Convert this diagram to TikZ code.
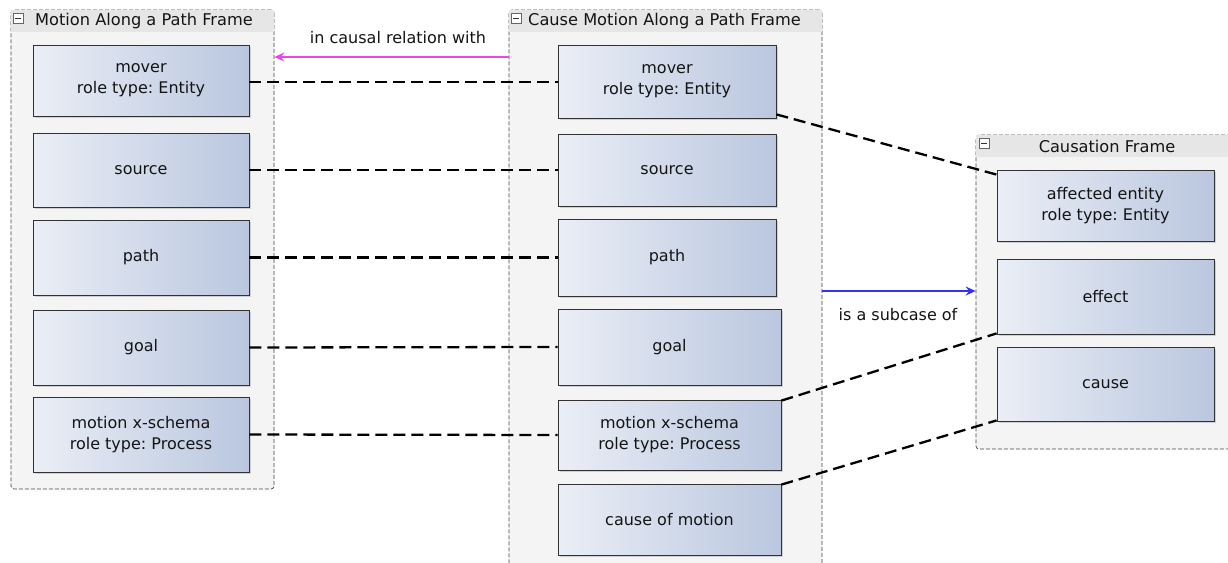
\documentclass[tikz,border=0pt]{standalone}
\usepackage{fontspec}
\setmainfont{DejaVu Sans}
\usetikzlibrary{arrows.meta,shadows}
\frenchspacing

\definecolor{txt}{RGB}{20,20,20}
\definecolor{framebg}{RGB}{244,244,244}
\definecolor{headbg}{RGB}{230,230,230}
\definecolor{framedge}{RGB}{70,70,70}
\definecolor{boxlight}{RGB}{234,238,246}
\definecolor{boxdark}{RGB}{186,199,223}
\definecolor{boxedge}{RGB}{50,50,50}
\definecolor{relmagenta}{RGB}{232,72,232}
\definecolor{relblue}{RGB}{50,50,245}

\tikzset{
  frame/.style={draw=framedge, fill=framebg, dash pattern=on 4pt off 2pt,
    line width=0.7pt, rounded corners=3pt, inner sep=0pt},
  rolebox/.style={draw=boxedge, line width=0.8pt, left color=boxlight, right color=boxdark,
    align=center, text=txt, inner sep=2pt,
    font=\fontsize{16}{21}\selectfont,
    drop shadow={shadow xshift=1.5pt, shadow yshift=-1.5pt, opacity=0.3}},
  title/.style={text=txt, font=\fontsize{16.2}{19}\selectfont, inner sep=0pt},
  rellabel/.style={text=txt, font=\fontsize{16}{19}\selectfont, inner sep=0pt},
  binding/.style={draw=black, line width=2.3pt, dash pattern=on 12pt off 6pt},
  collapse/.style={draw=gray!80!black, fill=white, line width=0.5pt,
    minimum size=10pt, inner sep=0pt},
}

\newcommand{\collapsebox}[2]{%
  \node[collapse] (#1) at (#2) {};
  \draw[line width=0.9pt, black!80] ([xshift=-2.8pt]#1.center) -- ([xshift=2.8pt]#1.center);
}

\begin{document}
\begin{tikzpicture}[x=1pt, y=-1pt]
\useasboundingbox (0,0) rectangle (1228,562);
\clip (0,0) rectangle (1228,562);
\fill[white] (0,0) rectangle (1228,562);

% ---- frames ----
\node[frame, minimum width=263pt, minimum height=479pt] (mf) at (142.5,249.5) {};
\fill[headbg] ([xshift=0.5pt,yshift=-0.5pt]mf.north west) rectangle ([xshift=-0.5pt,yshift=-22pt]mf.north east);
\collapsebox{mfc}{18,18}
\node[title, anchor=west] (mft) at (35,21) {Motion Along a Path Frame};

\node[frame, minimum width=313pt, minimum height=570pt] (cf) at (665.5,295) {};
\fill[headbg] ([xshift=0.5pt,yshift=-0.5pt]cf.north west) rectangle ([xshift=-0.5pt,yshift=-22pt]cf.north east);
\collapsebox{cfc}{516,18}
\node[title, anchor=west] (cft) at (528,21) {Cause Motion Along a Path Frame};

\node[frame, minimum width=264pt, minimum height=314pt] (sf) at (1108,292) {};
\fill[headbg] ([xshift=0.5pt,yshift=-0.5pt]sf.north west) rectangle ([xshift=-0.5pt,yshift=-22pt]sf.north east);
\collapsebox{sfc}{984,143}
\node[title] (sft) at (1107,146) {Causation Frame};

% ---- roles of Motion Along a Path ----
\node[rolebox, minimum width=216pt, minimum height=71pt] (lm) at (141,80.5) {mover\\role type: Entity};
\node[rolebox, minimum width=216pt, minimum height=74pt] (ls) at (141,170) {source};
\node[rolebox, minimum width=216pt, minimum height=75pt] (lp) at (141,257.5) {path};
\node[rolebox, minimum width=216pt, minimum height=75pt] (lg) at (141,347.5) {goal};
\node[rolebox, minimum width=216pt, minimum height=75pt] (lx) at (141,434.5) {motion x-schema\\role type: Process};

% ---- roles of Cause Motion Along a Path ----
\node[rolebox, minimum width=218pt, minimum height=73pt] (cm) at (667,81.5) {mover\\role type: Entity};
\node[rolebox, minimum width=218pt, minimum height=72pt] (cs) at (667,170) {source};
\node[rolebox, minimum width=218pt, minimum height=77pt] (cp) at (667,257.5) {path};
\node[rolebox, minimum width=223pt, minimum height=76pt] (cg) at (669.5,347) {goal};
\node[rolebox, minimum width=223pt, minimum height=70pt] (cx) at (669.5,435) {motion x-schema\\role type: Process};
\node[rolebox, minimum width=223pt, minimum height=71pt] (cc) at (669.5,519.5) {cause of motion};

% ---- roles of Causation ----
\node[rolebox, minimum width=217pt, minimum height=71pt] (ra) at (1105.5,205.5) {affected entity\\role type: Entity};
\node[rolebox, minimum width=217pt, minimum height=75pt] (re) at (1105.5,296.5) {effect};
\node[rolebox, minimum width=217pt, minimum height=74pt] (rc) at (1105.5,384) {cause};

% ---- role bindings ----
\draw[binding] (lm.east |- 0,82) -- (cm.west |- 0,82);
\draw[binding] (ls.east) -- (cs.west);
\draw[binding] (lp.east) -- (cp.west);
\draw[binding] (lg.east) -- (cg.west);
\draw[binding] (lx.east) -- (cx.west);
\draw[binding] ([yshift=4pt]cm.south east) -- ([yshift=-5pt]ra.north west);
\draw[binding] ([yshift=-1pt]cx.north east) -- ([yshift=1pt]re.south west);
\draw[binding] ([yshift=-1pt]cc.north east) -- ([yshift=1pt]rc.south west);

% ---- frame relations ----
\coordinate (ycausal) at (0,57);
\draw[relmagenta, line width=2pt, -{Stealth[length=10pt, width=9pt, inset=3.5pt]}]
  (cf.west |- ycausal) -- (mf.east |- ycausal);
\node[rellabel] (lcausal) at (398,38) {in causal relation with};

\coordinate (ysub) at (0,291);
\draw[relblue, line width=1.8pt, -{Stealth[length=10pt, width=9pt, inset=3.5pt]}]
  (cf.east |- ysub) -- (sf.west |- ysub);
\node[rellabel] (lsub) at (898,315) {is a subcase of};
\end{tikzpicture}
\end{document}
